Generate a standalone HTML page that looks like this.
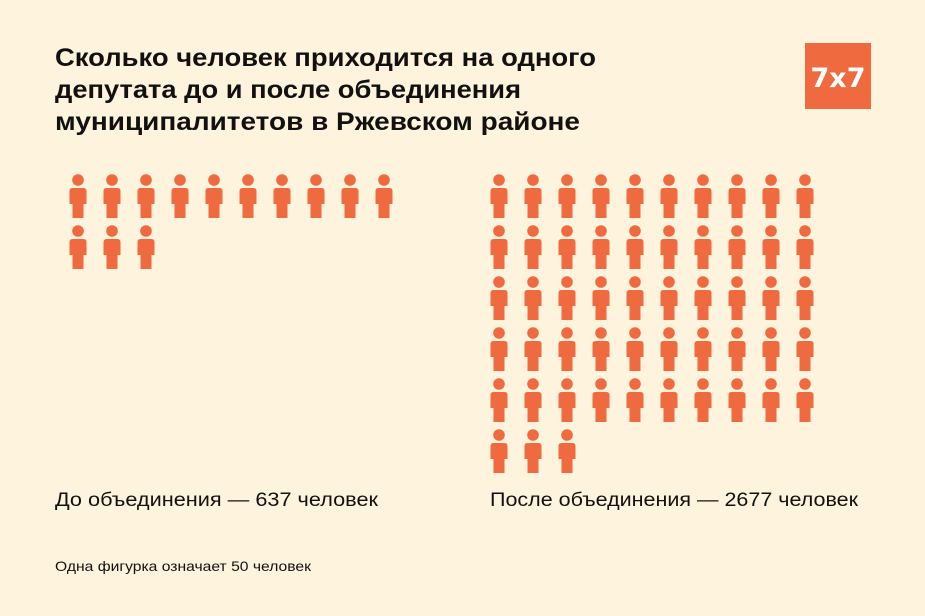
<!DOCTYPE html>
<html><head><meta charset="utf-8"><style>
body{margin:0;background:#fef3dc;}
svg{display:block}
text{font-family:"Liberation Sans",sans-serif;fill:#111}
</style></head><body>
<svg width="925" height="616" viewBox="0 0 925 616" xmlns="http://www.w3.org/2000/svg">
<defs>
<g id="p" fill="#f06a40">
<circle cx="0" cy="0" r="5.8"/>
<path d="M-8.5 11 Q-8.5 8 -5.5 8 L5.5 8 Q8.5 8 8.5 11 L8.5 24 L5.5 24 L5.5 38 L-5.5 38 L-5.5 24 L-8.5 24 Z"/>
</g>
<g id="row">
<use href="#p" x="499" y="0"/><use href="#p" x="533" y="0"/><use href="#p" x="567" y="0"/><use href="#p" x="601" y="0"/><use href="#p" x="635" y="0"/><use href="#p" x="669" y="0"/><use href="#p" x="703" y="0"/><use href="#p" x="737" y="0"/><use href="#p" x="771" y="0"/><use href="#p" x="805" y="0"/>
</g>
</defs>
<rect width="925" height="616" fill="#fef3dc"/>
<text x="55" y="66" font-size="25" font-weight="bold" textLength="541" lengthAdjust="spacingAndGlyphs">Сколько человек приходится на одного</text>
<text x="55" y="98" font-size="25" font-weight="bold" textLength="466" lengthAdjust="spacingAndGlyphs">депутата до и после объединения</text>
<text x="55" y="130" font-size="25" font-weight="bold" textLength="525" lengthAdjust="spacingAndGlyphs">муниципалитетов в Ржевском районе</text>
<rect x="805" y="43" width="66" height="66" fill="#f06a40"/>
<text x="838" y="87" font-size="27" font-weight="bold" text-anchor="middle" style="fill:#fff;font-family:'DejaVu Sans',sans-serif">7x7</text>
<use href="#p" x="78" y="180"/><use href="#p" x="112" y="180"/><use href="#p" x="146" y="180"/><use href="#p" x="180" y="180"/><use href="#p" x="214" y="180"/><use href="#p" x="248" y="180"/><use href="#p" x="282" y="180"/><use href="#p" x="316" y="180"/><use href="#p" x="350" y="180"/><use href="#p" x="384" y="180"/>
<use href="#p" x="78" y="231"/><use href="#p" x="112" y="231"/><use href="#p" x="146" y="231"/>
<use href="#row" y="180"/><use href="#row" y="231"/><use href="#row" y="282"/><use href="#row" y="333"/><use href="#row" y="384"/>
<use href="#p" x="499" y="435"/><use href="#p" x="533" y="435"/><use href="#p" x="567" y="435"/>
<text x="55" y="506" font-size="19" textLength="323" lengthAdjust="spacingAndGlyphs">До объединения — 637 человек</text>
<text x="490" y="506" font-size="19" textLength="368" lengthAdjust="spacingAndGlyphs">После объединения — 2677 человек</text>
<text x="55" y="571" font-size="14" textLength="256" lengthAdjust="spacingAndGlyphs">Одна фигурка означает 50 человек</text>
</svg>
</body></html>
